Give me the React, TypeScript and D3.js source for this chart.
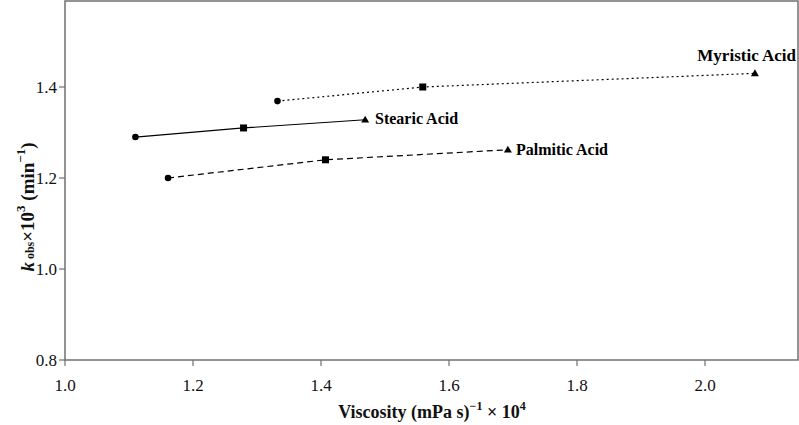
import React from "react";
import * as d3 from "d3";

const W = 799;
const H = 425;

const xTicks = [1.0, 1.2, 1.4, 1.6, 1.8, 2.0];
const yTicks = [0.8, 1.0, 1.2, 1.4];

const stearicX = [1.11, 1.279, 1.469];
const stearicY = [1.29, 1.31, 1.328];
const palmiticX = [1.161, 1.407, 1.692];
const palmiticY = [1.2, 1.24, 1.262];
const myristicX = [1.332, 1.559, 2.078];
const myristicY = [1.369, 1.4, 1.43];

const seriesNames = ["Stearic Acid", "Palmitic Acid", "Myristic Acid"];

export default function App() {
  const left = 65;
  const right = 798;
  const top = 1;
  const bottom = 360;
  const x = d3.scaleLinear().domain([1.0, 2.0]).range([left, left + 640]);
  const y = d3.scaleLinear().domain([0.8, 1.4]).range([bottom, 87]);

  const series = [
    { name: seriesNames[0], xs: stearicX, ys: stearicY, dash: "none" },
    { name: seriesNames[1], xs: palmiticX, ys: palmiticY, dash: "6,4" },
    { name: seriesNames[2], xs: myristicX, ys: myristicY, dash: "2,3" },
  ];

  const line = d3
    .line<[number, number]>()
    .x((d) => x(d[0]))
    .y((d) => y(d[1]));

  const serif = "'Liberation Serif', 'Times New Roman', serif";
  const axisColor = "#707070";

  const marker = (kind: number, cx: number, cy: number, key: string) => {
    if (kind === 0) return <circle key={key} cx={cx} cy={cy} r={3.3} fill="#000" />;
    if (kind === 1)
      return <rect key={key} x={cx - 3.5} y={cy - 3.5} width={7} height={7} fill="#000" />;
    const s = 4;
    return (
      <path
        key={key}
        d={`M${cx},${cy - s} L${cx + s},${cy + s * 0.7} L${cx - s},${cy + s * 0.7} Z`}
        fill="#000"
      />
    );
  };

  const labelPos = [
    { x: 375, y: 124, anchor: "start", size: 16 },
    { x: 516, y: 155, anchor: "start", size: 16 },
    { x: 796, y: 61, anchor: "end", size: 17 },
  ];

  return (
    <svg
      width={W}
      height={H}
      style={{ position: "absolute", left: 0, top: 0, background: "#fff" }}
      fontFamily={serif}
    >
      <rect x={0} y={0} width={W} height={H} fill="#fff" />
      <rect
        x={left}
        y={top}
        width={right - left}
        height={bottom - top}
        fill="none"
        stroke={axisColor}
        strokeWidth={1.5}
      />
      {yTicks.map((t) => (
        <g key={"y" + t}>
          <line x1={left - 6} x2={left} y1={y(t)} y2={y(t)} stroke={axisColor} strokeWidth={1.2} />
          <text x={left - 8} y={y(t)} dy="0.35em" textAnchor="end" fontSize={17} fill="#111">
            {d3.format(".1f")(t)}
          </text>
        </g>
      ))}
      {xTicks.map((t) => (
        <g key={"x" + t}>
          <line x1={x(t)} x2={x(t)} y1={bottom} y2={bottom + 6} stroke={axisColor} strokeWidth={1.2} />
          <text x={x(t)} y={bottom + 31} textAnchor="middle" fontSize={17} fill="#111">
            {d3.format(".1f")(t)}
          </text>
        </g>
      ))}
      {series.map((s, si) => {
        const pts: [number, number][] = s.xs.map((v, i) => [v, s.ys[i]]);
        return (
          <g key={s.name}>
            <path
              d={line(pts) || ""}
              fill="none"
              stroke="#000"
              strokeWidth={1.2}
              strokeDasharray={s.dash}
            />
            {pts.map((p, i) => marker(i, x(p[0]), y(p[1]), s.name + i))}
            <text
              x={labelPos[si].x}
              y={labelPos[si].y}
              textAnchor={labelPos[si].anchor as any}
              fontSize={labelPos[si].size}
              fontWeight="bold"
              fill="#000"
            >
              {s.name}
            </text>
          </g>
        );
      })}
      <text x={432} y={418} textAnchor="middle" fontSize={18} fontWeight="bold" fill="#111">
        Viscosity (mPa s)
        <tspan fontSize={12} dy={-8}>−1</tspan>
        <tspan dy={8}> × 10</tspan>
        <tspan fontSize={12} dy={-8}>4</tspan>
      </text>
      <text
        transform={`translate(34, 207) rotate(-90)`}
        textAnchor="middle"
        fontSize={19}
        fontWeight="bold"
        fill="#111"
      >
        <tspan fontStyle="italic">k</tspan>
        <tspan fontSize={12}> obs</tspan>
        <tspan>×10</tspan>
        <tspan fontSize={13} dy={-9}>3</tspan>
        <tspan dy={9}> (min</tspan>
        <tspan fontSize={13} dy={-9}>−1</tspan>
        <tspan dy={9}>)</tspan>
      </text>
    </svg>
  );
}
